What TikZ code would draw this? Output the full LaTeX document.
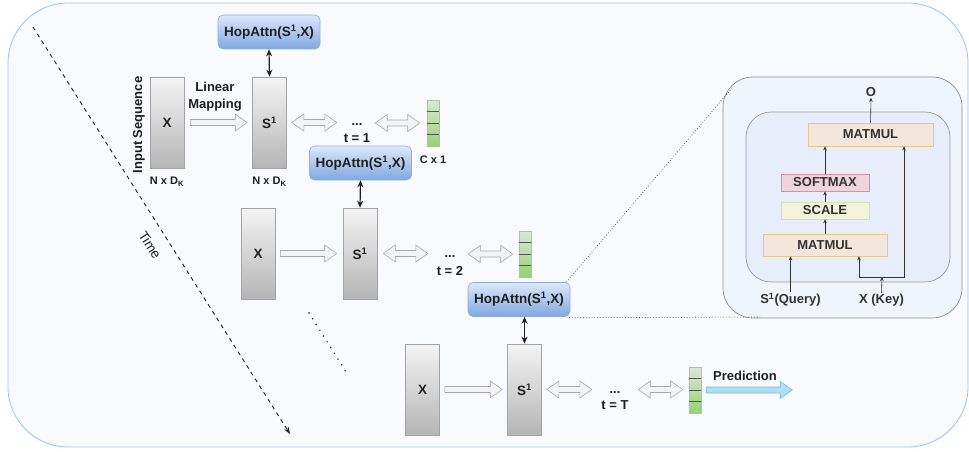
\documentclass[tikz,border=0pt]{standalone}
\usepackage{fontspec}
\setmainfont{Liberation Sans}
\usetikzlibrary{arrows.meta,calc}

\definecolor{ink}{HTML}{1F1F1F}
\definecolor{panelink}{HTML}{333333}
\definecolor{frameedge}{HTML}{90C4F6}
\definecolor{framefill}{HTML}{F8FAFE}
\definecolor{gtop}{HTML}{F4F4F4}
\definecolor{gbot}{HTML}{B5B5B5}
\definecolor{grayedge}{HTML}{A3A3A3}
\definecolor{htop}{HTML}{DCE8FB}
\definecolor{hbot}{HTML}{80A8E0}
\definecolor{hopedge}{HTML}{8FAEDC}
\definecolor{vtop}{HTML}{D8EAD5}
\definecolor{vbot}{HTML}{98D078}
\definecolor{vedge}{HTML}{A5C98E}
\definecolor{cellline}{HTML}{555555}
\definecolor{fatfill}{HTML}{F3F3F3}
\definecolor{fatedge}{HTML}{A8A8A8}
\definecolor{predfill}{HTML}{B3DEF1}
\definecolor{prededge}{HTML}{6FBCE0}
\definecolor{panelfill}{HTML}{F0F4FE}
\definecolor{paneledge}{HTML}{8C8C8C}
\definecolor{innerfill}{HTML}{E7EDFB}
\definecolor{inneredge}{HTML}{9A9A9A}
\definecolor{mmfill}{HTML}{F3E6DA}
\definecolor{mmedge}{HTML}{E8C88A}
\definecolor{smfill}{HTML}{EFD3DD}
\definecolor{smedge}{HTML}{D98DA8}
\definecolor{scfill}{HTML}{F2F2DD}
\definecolor{scedge}{HTML}{DDDDB0}

\tikzset{
  lbl/.style={font=\fontsize{13}{16}\selectfont\bfseries, text=ink, inner sep=1pt},
  smalllbl/.style={font=\fontsize{11}{13}\selectfont\bfseries, text=ink, inner sep=1pt},
  graybox/.style={draw=grayedge, line width=0.6pt, top color=gtop, bottom color=gbot,
    minimum width=34pt, minimum height=91pt, inner sep=0pt,
    font=\fontsize{13.5}{16}\selectfont\bfseries, text=ink},
  hopbox/.style={draw=hopedge, line width=0.6pt, rounded corners=5pt, top color=htop, bottom color=hbot,
    minimum width=102pt, minimum height=34pt, inner sep=0pt,
    font=\fontsize{13.5}{16}\selectfont\bfseries, text=ink},
  vecbar/.style={draw=vedge, line width=0.5pt, top color=vtop, bottom color=vbot,
    minimum width=12pt, minimum height=46pt, inner sep=0pt},
  midlbl/.style={minimum width=30pt, minimum height=10pt, inner sep=0pt},
  link/.style={{Stealth[length=7pt,width=6pt]}-{Stealth[length=7pt,width=6pt]}, line width=1.2pt, draw=ink},
  fat/.style={draw=fatedge, fill=fatfill, line width=0.6pt},
  pred/.style={draw=prededge, fill=predfill, line width=0.6pt},
  opbox/.style={line width=0.6pt, inner sep=0pt, font=\fontsize{13}{15}\selectfont\bfseries, text=panelink},
  flow/.style={-{Stealth[length=4pt,width=3.5pt]}, line width=0.6pt, draw=panelink},
  plbl/.style={font=\fontsize{13}{15}\selectfont\bfseries, text=panelink, inner sep=1pt},
  callout/.style={draw=panelink, line width=0.6pt, dash pattern=on 0.8pt off 2pt},
}

% one-headed hollow arrow, horizontal, at the height of the start point
\newcommand\fatarrow[3]{%
  \path[#1] let \p1=#2, \p2=#3 in
    (\x1,\y1+3pt) -- (\x2-12pt,\y1+3pt) -- (\x2-12pt,\y1+8.5pt) -- (\x2,\y1)
    -- (\x2-12pt,\y1-8.5pt) -- (\x2-12pt,\y1-3pt) -- (\x1,\y1-3pt) -- cycle;}
% two-headed hollow arrow
\newcommand\fatdouble[3]{%
  \path[#1] let \p1=#2, \p2=#3 in
    (\x1,\y1) -- (\x1+12pt,\y1+8.5pt) -- (\x1+12pt,\y1+3pt) -- (\x2-12pt,\y1+3pt)
    -- (\x2-12pt,\y1+8.5pt) -- (\x2,\y1) -- (\x2-12pt,\y1-8.5pt) -- (\x2-12pt,\y1-3pt)
    -- (\x1+12pt,\y1-3pt) -- (\x1+12pt,\y1-8.5pt) -- cycle;}
% output vector of four cells
\newcommand\outvec[2]{%
  \node[vecbar] (#1) at #2 {};
  \foreach \k in {1,2,3}
    \draw[cellline, line width=0.5pt] ($(#1.north west)!\k/4!(#1.south west)$) -- ($(#1.north east)!\k/4!(#1.south east)$);}

\begin{document}
\begin{tikzpicture}[x=1pt,y=-1pt]
\useasboundingbox (0,0) rectangle (969,452);

% frame
\draw[frameedge, fill=framefill, line width=0.8pt, rounded corners=60pt] (8,3) rectangle (968,447);

% time axis
\coordinate (t0) at (33,27);
\coordinate (t1) at (290,434);
\draw[ink, line width=0.9pt, dash pattern=on 4pt off 4pt, -{Stealth[length=7pt,width=5pt]}] (t0) -- (t1);
\node[text=ink, font=\fontsize{13.5}{16}\selectfont, inner sep=1pt, rotate=-57.6] (time) at (150,245) {Time};
\coordinate (e0) at (309,313);
\coordinate (e1) at (348,375);
\draw[ink, line width=1.6pt, line cap=round, dash pattern=on 0pt off 6.8pt] (e0) -- (e1);

% ---- step 1
\node[graybox] (X1) at (167,122.5) {X};
\node[graybox] (S1) at (269.5,122.5) {S\textsuperscript{1}};
\node[hopbox] (H1) at (269,32) {HopAttn(S\textsuperscript{1},X)};
\node[midlbl] (m1) at (357,123) {};
\node[lbl, anchor=base] at (357,125) {...};
\node[lbl, anchor=base] at (357,142) {t = 1};
\outvec{G1}{(433,123)}
\node[lbl, rotate=90] (inseq) at (139,125) {Input Sequence};
\node[smalllbl] at (167,182) {N x D\textsubscript{K}};
\node[smalllbl] at (269.5,182) {N x D\textsubscript{K}};
\node[smalllbl] at (433,160) {C x 1};
\node[lbl, align=center, font=\fontsize{13}{17}\selectfont\bfseries] at (215,97) {Linear\\Mapping};
\fatarrow{fat}{($(X1.east)+(6,0)$)}{($(S1.west)+(-5,0)$)}
\fatdouble{fat}{($(S1.east)+(5,0)$)}{($(m1.west)+(-5,0)$)}
\fatdouble{fat}{($(m1.east)+(3,0)$)}{($(G1.west)+(-7,0)$)}
\draw[link] (H1.south) -- (S1.north);

% ---- step 2
\node[graybox] (X2) at (258,253.5) {X};
\node[graybox] (S2) at (360,253.5) {S\textsuperscript{1}};
\node[hopbox] (H2) at (360.5,163) {HopAttn(S\textsuperscript{1},X)};
\node[midlbl] (m2) at (450,254) {};
\node[lbl, anchor=base] at (450,257) {...};
\node[lbl, anchor=base] at (450,275) {t = 2};
\outvec{G2}{(525,254)}
\fatarrow{fat}{($(X2.east)+(5,0)$)}{($(S2.west)+(-6,0)$)}
\fatdouble{fat}{($(S2.east)+(6,0)$)}{($(m2.west)+(-7,0)$)}
\fatdouble{fat}{($(m2.east)+(3,0)$)}{($(G2.west)+(-6,0)$)}
\draw[link] (H2.south) -- (S2.north);

% ---- step T
\node[graybox] (X3) at (422.5,389.5) {X};
\node[graybox] (S3) at (524.5,389.5) {S\textsuperscript{1}};
\node[hopbox] (H3) at (519,299.5) {HopAttn(S\textsuperscript{1},X)};
\node[midlbl] (m3) at (615,389.5) {};
\node[lbl, anchor=base] at (615,393) {...};
\node[lbl, anchor=base] at (615,409) {t = T};
\outvec{G3}{(695,390)}
\fatarrow{fat}{($(X3.east)+(5,0)$)}{($(S3.west)+(-5,0)$)}
\fatdouble{fat}{($(S3.east)+(5,0)$)}{($(m3.west)+(-8,0)$)}
\fatdouble{fat}{($(m3.east)+(8,0)$)}{($(G3.west)+(-6,0)$)}
\draw[link] (H3.south -| S3.north) -- (S3.north);
\fatarrow{pred}{($(G3.east)+(5,0)$)}{($(G3.east)+(91,0)$)}
\node[lbl] at (745,376) {Prediction};

% ---- attention detail
\draw[paneledge, fill=panelfill, line width=0.7pt, rounded corners=30pt] (723,77) rectangle (962,318);
\draw[inneredge, fill=innerfill, line width=0.7pt, rounded corners=25pt] (746,112) rectangle (950,282);
\coordinate (pa) at (732,88);
\coordinate (pb) at (760,317);
\draw[callout] ($(H3.north east)+(-4,0)$) -- (pa);
\draw[callout] ($(H3.south east)+(-4,1)$) -- (pb);

\node[opbox, draw=mmedge, fill=mmfill, minimum width=125pt, minimum height=23pt] (MT) at (870.5,134.5) {MATMUL};
\node[opbox, draw=smedge, fill=smfill, minimum width=88pt, minimum height=17pt] (SM) at (825,182.5) {SOFTMAX};
\node[opbox, draw=scedge, fill=scfill, minimum width=88pt, minimum height=17pt] (SC) at (825,210.5) {SCALE};
\node[opbox, draw=mmedge, fill=mmfill, minimum width=124pt, minimum height=22pt] (MB) at (825,245) {MATMUL};
\node[plbl] (O) at (871,92) {O};
\node[plbl] (Q) at (790.5,300) {S\textsuperscript{1}(Query)};
\node[plbl] (K) at (881.5,300) {X (Key)};

\draw[flow] (MT.north) -- (O.south);
\draw[flow] (SM.north) -- (SM.north |- MT.south);
\draw[flow] (SC.north) -- (SM.south);
\draw[flow] (MB.north) -- (SC.south);
\draw[flow] (Q.north) -- (Q.north |- MB.south);
\coordinate (J) at (882,277);
\draw[flow] (K.north) -- (J);
\coordinate (ka) at (859,277);
\coordinate (kb) at (904,277);
\draw[flow] (ka) -- (ka |- MB.south);
\draw[flow] (ka) -- (kb) -- (kb |- MT.south);
\end{tikzpicture}
\end{document}
